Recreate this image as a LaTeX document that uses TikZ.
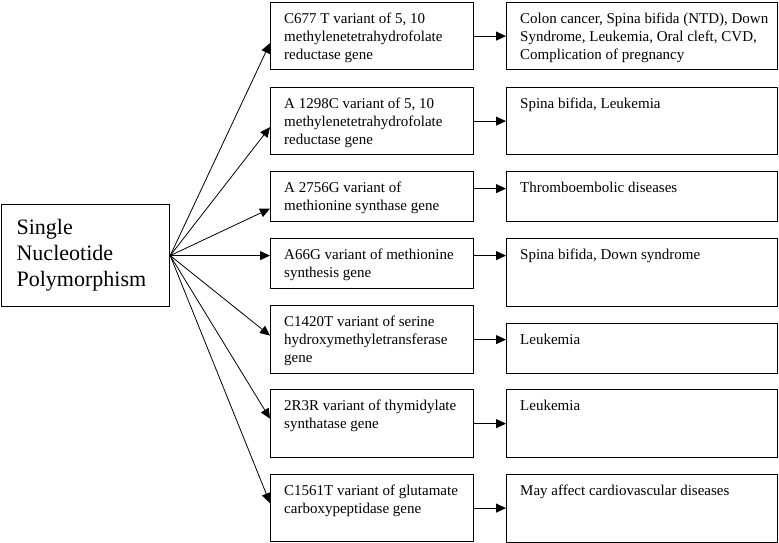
\documentclass[tikz,border=0pt]{standalone}
\usepackage{fontspec}
\setmainfont{Liberation Serif}
\usetikzlibrary{arrows.meta}

\begin{document}
\begin{tikzpicture}[
  x=1pt, y=-1pt,
  box/.style={draw, line width=1.2pt, anchor=north west, inner sep=0pt},
  gene/.style={box, minimum width=203pt},
  effect/.style={box, minimum width=271pt},
  txt/.style={anchor=north west, align=left, inner xsep=14pt, inner ysep=10.5pt, font=\fontsize{15}{18}\selectfont},
  link/.style={->, line width=0.8pt},
  >={Triangle[length=10pt, width=9pt]}
]
  \useasboundingbox (0,0) rectangle (779,543);

  % source
  \node[box, minimum width=168pt, minimum height=102pt, text width=138pt, inner xsep=15pt, align=left, font=\fontsize{22}{26}\selectfont] (snp) at (1,204) {Single\\Nucleotide\\Polymorphism};

  % variants
  \node[gene, minimum height=67pt, label={[txt]north west:{C677 T variant of 5, 10\\methylenetetrahydrofolate\\reductase gene}}] (mthfrA) at (270,2) {};
  \node[gene, minimum height=67pt, label={[txt]north west:{A 1298C variant of 5, 10\\methylenetetrahydrofolate\\reductase gene}}] (mthfrB) at (270,87) {};
  \node[gene, minimum height=50pt, label={[txt]north west:{A 2756G variant of\\methionine synthase gene}}] (ms) at (270,171) {};
  \node[gene, minimum height=50pt, label={[txt]north west:{A66G variant of methionine\\synthesis gene}}] (msr) at (270,238) {};
  \node[gene, minimum height=68pt, label={[txt]north west:{C1420T variant of serine\\hydroxymethyletransferase\\gene}}] (shmt) at (270,305) {};
  \node[gene, minimum height=68pt, label={[txt]north west:{2R3R variant of thymidylate\\synthatase gene}}] (ts) at (270,389) {};
  \node[gene, minimum height=67pt, label={[txt]north west:{C1561T variant of glutamate\\carboxypeptidase gene}}] (gcp) at (270,474) {};

  % diseases
  \node[effect, minimum height=67pt, label={[txt]north west:{Colon cancer, Spina bifida (NTD), Down\\Syndrome, Leukemia, Oral cleft, CVD,\\Complication of pregnancy}}] (mthfrA-d) at (506,2) {};
  \node[effect, minimum height=67pt, label={[txt]north west:{Spina bifida, Leukemia}}] (mthfrB-d) at (506,87) {};
  \node[effect, minimum height=50pt, label={[txt]north west:{Thromboembolic diseases}}] (ms-d) at (506,171) {};
  \node[effect, minimum height=68pt, label={[txt]north west:{Spina bifida, Down syndrome}}] (msr-d) at (506,238) {};
  \node[effect, minimum height=50pt, label={[txt]north west:{Leukemia}}] (shmt-d) at (506,323) {};
  \node[effect, minimum height=68pt, label={[txt]north west:{Leukemia}}] (ts-d) at (506,389) {};
  \node[effect, minimum height=68pt, label={[txt]north west:{May affect cardiovascular diseases}}] (gcp-d) at (506,474) {};

  % fan out
  \draw[link] (snp.east) -- ([yshift=-7pt]mthfrA.west);
  \draw[link] (snp.east) -- ([yshift=-6pt]mthfrB.west);
  \draw[link] (snp.east) -- ([yshift=-12pt]ms.west);
  \draw[link] (snp.east) -- ([yshift=8pt]msr.west);
  \draw[link] (snp.east) -- ([yshift=4pt]shmt.west);
  \draw[link] (snp.east) -- ([yshift=5pt]ts.west);
  \draw[link] (snp.east) -- ([yshift=5pt]gcp.west);

  % to diseases
  \draw[link] (mthfrA.east) -- (mthfrA.east -| mthfrA-d.west);
  \draw[link] (mthfrB.east) -- (mthfrB.east -| mthfrB-d.west);
  \draw[link] ([yshift=8pt]ms.east) -- ([yshift=8pt]ms.east -| ms-d.west);
  \draw[link] ([yshift=8pt]msr.east) -- ([yshift=8pt]msr.east -| msr-d.west);
  \draw[link] (shmt.east) -- (shmt.east -| shmt-d.west);
  \draw[link] (ts.east) -- (ts.east -| ts-d.west);
  \draw[link] (gcp.east) -- (gcp.east -| gcp-d.west);
\end{tikzpicture}
\end{document}
